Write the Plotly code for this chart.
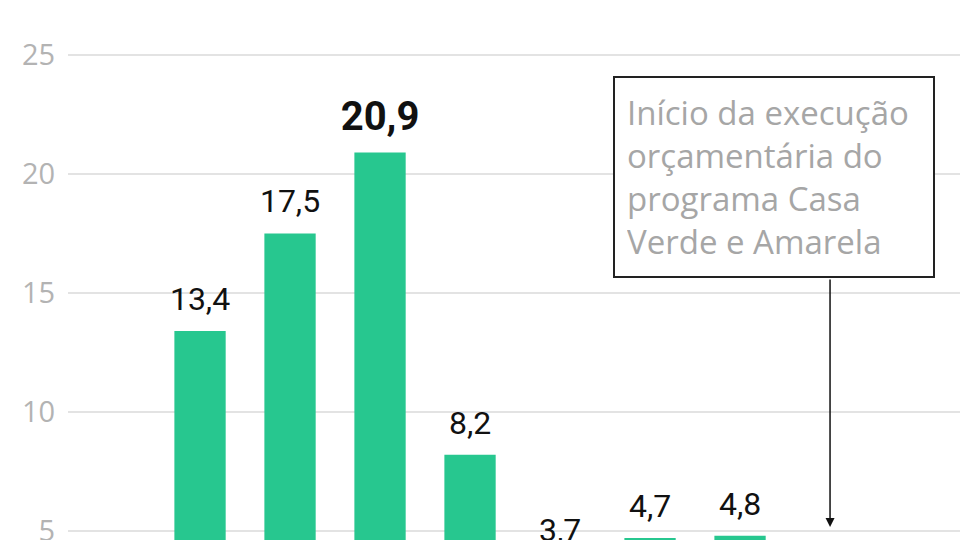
import plotly.graph_objects as go

# valores (R$ bilhões)
anos = [2012, 2013, 2014, 2015, 2016, 2017, 2018]
valores = [13.4, 17.5, 20.9, 8.2, 3.7, 4.7, 4.8]
ano_destaque = 2014
ano_inicio_cva = 2019
nota = "Início da execução<br>orçamentária do<br>programa Casa<br>Verde e Amarela"
ticks_y = [5, 10, 15, 20, 25]

textos, tamanhos = [], []
for a, v in zip(anos, valores):
    t = f"{v:.1f}".replace(".", ",")
    if a == ano_destaque:
        textos.append(f"<b>{t}</b>")
        tamanhos.append(40)
    else:
        textos.append(t)
        tamanhos.append(32)

fig = go.Figure()
fig.add_bar(
    x=anos,
    y=valores,
    marker=dict(color="#27c78f", cornerradius=5, line_width=0),
    width=0.57,
    hoverinfo="skip",
)
# segmento invisível só para afastar o rótulo do topo da barra
fig.add_bar(
    x=anos,
    y=[0.42] * len(anos),
    base=valores,
    text=textos,
    textposition="outside",
    constraintext="none",
    cliponaxis=False,
    textfont=dict(family="Roboto", size=tamanhos, color="#111111"),
    marker=dict(color="rgba(0,0,0,0)", line_width=0),
    width=0.57,
    hoverinfo="skip",
)

# seta e caixa de anotação
fig.add_annotation(
    x=ano_inicio_cva, y=5.17, ax=0, ay=-249,
    text="", showarrow=True, arrowhead=2, arrowsize=1.2,
    arrowwidth=1.5, arrowcolor="#111111",
)
fig.add_annotation(
    x=2018.378, y=19.86, xref="x", yref="y",
    text=nota, showarrow=False, align="left", width=294,
    xanchor="center", yanchor="middle",
    font=dict(family="Open Sans", size=33, color="#a6a6a6"),
    bordercolor="#222222", borderwidth=2, borderpad=12,
    bgcolor="white",
)

# a figura é mais alta que a janela: o corte inferior imita o recorte do original
fig.update_layout(
    width=960, height=600,
    margin=dict(l=68, r=0, t=0, b=0),
    barmode="overlay",
    plot_bgcolor="white", paper_bgcolor="white",
    showlegend=False,
    xaxis=dict(range=[2010.533, 2020.444], showticklabels=False,
               showgrid=False, zeroline=False, fixedrange=True),
    yaxis=dict(range=[2.10, 27.31], tickvals=ticks_y, showgrid=True,
               gridcolor="#e3e3e3", gridwidth=1.5, zeroline=False,
               ticks="outside", ticklen=6, tickcolor="rgba(0,0,0,0)",
               ticklabeloverflow="allow",
               tickfont=dict(family="Open Sans", size=29, color="#b3b3b3")),
)

fig.write_html(
    "out.html",
    config={"displayModeBar": False},
    post_script="document.body.style.margin='0';"
                "document.body.style.overflow='hidden';"
                "document.documentElement.style.overflow='hidden';",
)
